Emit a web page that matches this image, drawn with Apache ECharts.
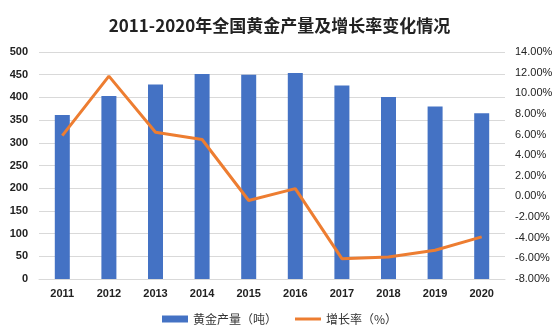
<!DOCTYPE html>
<html>
<head>
<meta charset="utf-8">
<script src="https://cdn.jsdelivr.net/npm/echarts@6/dist/echarts.min.js"></script>
<style>html,body{margin:0;padding:0;background:#fff}#c{width:559px;height:336px}</style>
</head>
<body>
<div id="c"></div>
<script>
const categories = ['2011','2012','2013','2014','2015','2016','2017','2018','2019','2020'];
const production = [360.96, 403.05, 428.16, 451.8, 450.05, 453.49, 426.14, 401.12, 380.23, 365.34];
const growthRate = [5.89, 11.66, 6.23, 5.52, -0.39, 0.76, -6.03, -5.87, -5.21, -3.92];
const leftTicks = {min: 0, max: 500, interval: 50};
const rightTicks = {min: -8, max: 14, interval: 2};

const chart = echarts.init(document.getElementById('c'));
chart.setOption({
  animation: false,
  backgroundColor: '#fff',
  title: {
    text: '2011-2020年全国黄金产量及增长率变化情况',
    left: 'center',
    top: 12,
    textStyle: {fontSize: 17, fontWeight: 'bold', color: '#222', fontFamily: '"Noto Sans CJK SC",sans-serif'}
  },
  grid: {left: 39, right: 54, top: 52, bottom: 57},
  legend: {
    left: 'center',
    bottom: 6,
    itemWidth: 26,
    itemHeight: 7,
    itemGap: 18,
    textStyle: {fontSize: 12, color: '#333', fontFamily: '"Noto Sans CJK SC",sans-serif'},
    data: [
      {name: '黄金产量（吨）', icon: 'rect'},
      {name: '增长率（%）', icon: 'path://M0,0 L26,0 L26,3 L0,3 Z'}
    ]
  },
  xAxis: {
    type: 'category',
    data: categories,
    axisTick: {show: false},
    axisLine: {lineStyle: {color: '#D9D9D9'}},
    axisLabel: {margin: 9, fontSize: 11, fontWeight: 'bold', color: '#222', fontFamily: '"Liberation Sans",Arial,sans-serif'}
  },
  yAxis: [
    {
      type: 'value', min: leftTicks.min, max: leftTicks.max, interval: leftTicks.interval,
      axisLine: {show: false}, axisTick: {show: false},
      splitLine: {lineStyle: {color: '#D9D9D9'}},
      axisLabel: {margin: 11, fontSize: 11, fontWeight: 'bold', color: '#222', fontFamily: '"Liberation Sans",Arial,sans-serif'}
    },
    {
      type: 'value', min: rightTicks.min, max: rightTicks.max, interval: rightTicks.interval,
      axisLine: {show: false}, axisTick: {show: false},
      splitLine: {show: false},
      axisLabel: {margin: 10, fontSize: 11, color: '#222', fontFamily: '"Liberation Sans",Arial,sans-serif',
        formatter: v => v.toFixed(2) + '%'}
    }
  ],
  series: [
    {
      name: '黄金产量（吨）', type: 'bar', data: production, barWidth: 15,
      itemStyle: {color: '#4472C4'}
    },
    {
      name: '增长率（%）', type: 'line', yAxisIndex: 1, data: growthRate,
      symbol: 'none', lineStyle: {width: 3, color: '#ED7D31'}, itemStyle: {color: '#ED7D31'}
    }
  ]
});
</script>
</body>
</html>
